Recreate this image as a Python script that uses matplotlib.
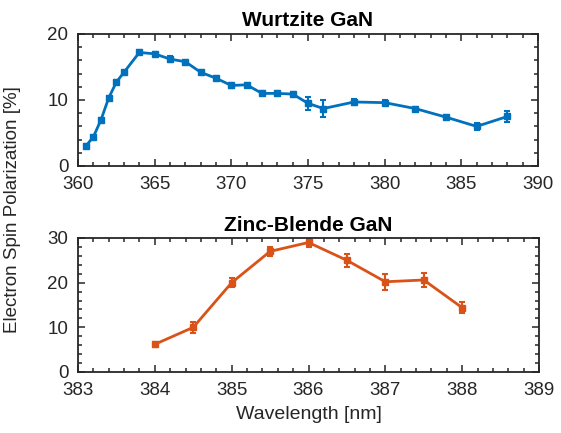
import numpy as np
import matplotlib
matplotlib.use("Agg")
import matplotlib.pyplot as plt
from matplotlib.ticker import MultipleLocator

plt.rcParams['font.family'] = ['Liberation Sans', 'DejaVu Sans']

# Wurtzite GaN
wz_wl = [360.5, 361.0, 361.5, 362.0, 362.5, 363.0, 364.0, 365.0, 366.0, 367.0,
         368.0, 369.0, 370.0, 371.0, 372.0, 373.0, 374.0, 375.0, 376.0, 378.0,
         380.0, 382.0, 384.0, 386.0, 388.0]
wz_pol = [3.0, 4.4, 7.0, 10.3, 12.7, 14.2, 17.2, 17.0, 16.2, 15.8,
          14.2, 13.3, 12.2, 12.3, 11.0, 11.0, 10.9, 9.5, 8.7, 9.7,
          9.6, 8.7, 7.4, 6.0, 7.5]
wz_err = [0.3, 0.3, 0.3, 0.3, 0.3, 0.3, 0.3, 0.3, 0.4, 0.3,
          0.3, 0.3, 0.4, 0.3, 0.3, 0.3, 0.3, 1.0, 1.3, 0.5,
          0.4, 0.3, 0.3, 0.5, 0.8]

# Zinc-Blende GaN
zb_wl = [384.0, 384.5, 385.0, 385.5, 386.0, 386.5, 387.0, 387.5, 388.0]
zb_pol = [6.2, 10.0, 20.0, 27.0, 29.0, 25.0, 20.2, 20.6, 14.4]
zb_err = [0.6, 1.3, 1.0, 1.0, 1.0, 1.5, 1.8, 1.5, 1.3]

blue = '#0072BD'
orange = '#D95319'
axc = '#262626'

fig = plt.figure(figsize=(5.61, 4.33), dpi=100)
ax1 = fig.add_axes([78/561, 1-166/433, 460/561, 132/433])
ax2 = fig.add_axes([78/561, 1-372/433, 461/561, 134/433])

ax1.errorbar(wz_wl, wz_pol, yerr=wz_err, color=blue, marker='s', ms=4.5,
             lw=2, elinewidth=1.5, capsize=2.5, capthick=1.5)
ax2.errorbar(zb_wl, zb_pol, yerr=zb_err, color=orange, marker='s', ms=4.5,
             lw=2, elinewidth=1.5, capsize=2.5, capthick=1.5)

ax1.set_xlim(360, 390)
ax1.set_ylim(0, 20)
ax1.xaxis.set_major_locator(MultipleLocator(5))
ax1.xaxis.set_minor_locator(MultipleLocator(1))
ax1.yaxis.set_major_locator(MultipleLocator(10))
ax1.yaxis.set_minor_locator(MultipleLocator(2))
ax1.set_title('Wurtzite GaN', fontsize=15, fontweight='bold', pad=6)

ax2.set_xlim(383, 389)
ax2.set_ylim(0, 30)
ax2.xaxis.set_major_locator(MultipleLocator(1))
ax2.xaxis.set_minor_locator(MultipleLocator(0.2))
ax2.yaxis.set_major_locator(MultipleLocator(10))
ax2.yaxis.set_minor_locator(MultipleLocator(2))
ax2.set_title('Zinc-Blende GaN', fontsize=15, fontweight='bold', pad=5)
ax2.set_xlabel('Wavelength [nm]', fontsize=14, color=axc, labelpad=5)

for ax in (ax1, ax2):
    for s in ax.spines.values():
        s.set_color(axc)
        s.set_linewidth(1.3)
    ax.tick_params(which='both', direction='in', top=True, right=True,
                   colors=axc, labelsize=13.5, width=1.1)
    ax.tick_params(which='major', length=5)
    ax.tick_params(which='minor', length=3)
    ax.tick_params(axis='x', which='major', pad=7)
    ax.tick_params(axis='y', which='major', pad=7)

fig.text(13/561, 1-210/433, 'Electron Spin Polarization [%]', rotation=90,
         ha='center', va='center', fontsize=13.5, color=axc)

fig.savefig('out.png', dpi=100)
